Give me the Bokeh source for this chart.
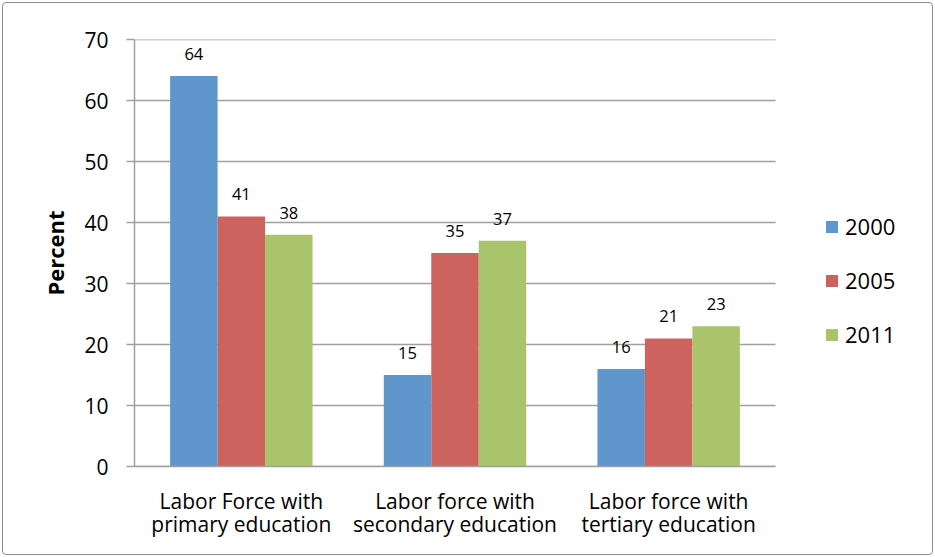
from bokeh.plotting import figure
from bokeh.models import Legend, LegendItem, FixedTicker, ColumnDataSource
from bokeh.core.properties import value
from bokeh.embed import file_html
from bokeh.resources import INLINE

# Labor force share by education level (percent)
categories = ["Labor Force with\nprimary education",
              "Labor force with\nsecondary education",
              "Labor force with\ntertiary education"]
years = ["2000", "2005", "2011"]
values_2000 = [64, 15, 16]
values_2005 = [41, 35, 21]
values_2011 = [38, 37, 23]
y_ticks = [0, 10, 20, 30, 40, 50, 60, 70]

colors = ["#5f96cc", "#cd635e", "#aac46b"]
FONT = "Open Sans"
GRID = "#a0a0a0"

series = [values_2000, values_2005, values_2011]
n_cat = len(categories)
centers = [i + 0.5 for i in range(n_cat)]
bar_w = 1 / 4.5
offsets = [-bar_w, 0.0, bar_w]

# the plotting area spans the categories plus room on the right for the legend
plot_px, frame_px = 641, 796
x_end = n_cat * frame_px / plot_px

p = figure(frame_width=frame_px, frame_height=427,
           x_range=(0, x_end), y_range=(0, 70),
           output_backend="svg", toolbar_location=None,
           min_border_left=134, min_border_right=5,
           min_border_top=39, min_border_bottom=91)
p.outline_line_color = None
p.background_fill_color = "white"
p.border_fill_alpha = 0
# thin rounded frame around the whole chart
p.styles = {"outline": "1.5px solid #8e8e8e", "outline-offset": "-3px",
            "border-radius": "6px", "background-color": "white"}

# horizontal gridlines over the category area only
p.segment(x0=[0] * len(y_ticks), x1=[n_cat] * len(y_ticks),
          y0=y_ticks, y1=y_ticks, line_color=GRID, line_width=1.5)

renderers = []
for vals, off, col in zip(series, offsets, colors):
    xs = [c + off for c in centers]
    src = ColumnDataSource(dict(x=xs, val=vals, lab=[str(v) for v in vals]))
    r = p.vbar(x="x", top="val", bottom=0, width=bar_w, source=src,
               fill_color=col, line_color=None)
    renderers.append(r)
    p.text(x="x", y="val", text="lab", source=src, text_align="center",
           text_baseline="middle", y_offset=-22, text_font=value(FONT),
           text_font_size="16.5px", text_color="black")

# axes
p.yaxis.ticker = FixedTicker(ticks=y_ticks)
p.yaxis.axis_line_color = GRID
p.yaxis.axis_line_width = 1.5
p.yaxis.major_tick_line_color = GRID
p.yaxis.major_tick_line_width = 1.5
p.yaxis.major_tick_out = 8
p.yaxis.major_tick_in = 0
p.yaxis.minor_tick_line_color = None
p.yaxis.major_label_text_font = FONT
p.yaxis.major_label_text_font_size = "21px"
p.yaxis.major_label_text_color = "black"
p.yaxis.major_label_standoff = 18
p.yaxis.axis_label = "Percent"
p.yaxis.axis_label_text_font = FONT
p.yaxis.axis_label_text_font_style = "bold"
p.yaxis.axis_label_text_font_size = "22px"
p.yaxis.axis_label_text_color = "black"
p.yaxis.axis_label_standoff = 11

p.xaxis.ticker = FixedTicker(ticks=centers)
p.xaxis.major_label_overrides = dict(zip(centers, categories))
p.xaxis.bounds = (0, n_cat)
p.xaxis.axis_line_color = GRID
p.xaxis.axis_line_width = 1.5
p.xaxis.major_tick_line_color = None
p.xaxis.minor_tick_line_color = None
p.xaxis.major_label_text_font = FONT
p.xaxis.major_label_text_font_size = "21px"
p.xaxis.major_label_text_line_height = 0.84
p.xaxis.major_label_text_color = "black"
p.xaxis.major_label_standoff = 14
p.xaxis.major_label_orientation = "horizontal"

p.xgrid.grid_line_color = None
p.ygrid.grid_line_color = None

legend = Legend(items=[LegendItem(label=y, renderers=[r])
                       for y, r in zip(years, renderers)],
                location=(690, 117), orientation="vertical",
                glyph_width=15, glyph_height=15, label_height=24,
                spacing=24, padding=0, margin=0, label_standoff=6,
                label_text_font=FONT, label_text_font_size="22px",
                label_text_color="black",
                border_line_color=None, background_fill_alpha=0)
p.add_layout(legend, "center")

open("out.html", "w").write(file_html(p, INLINE))
